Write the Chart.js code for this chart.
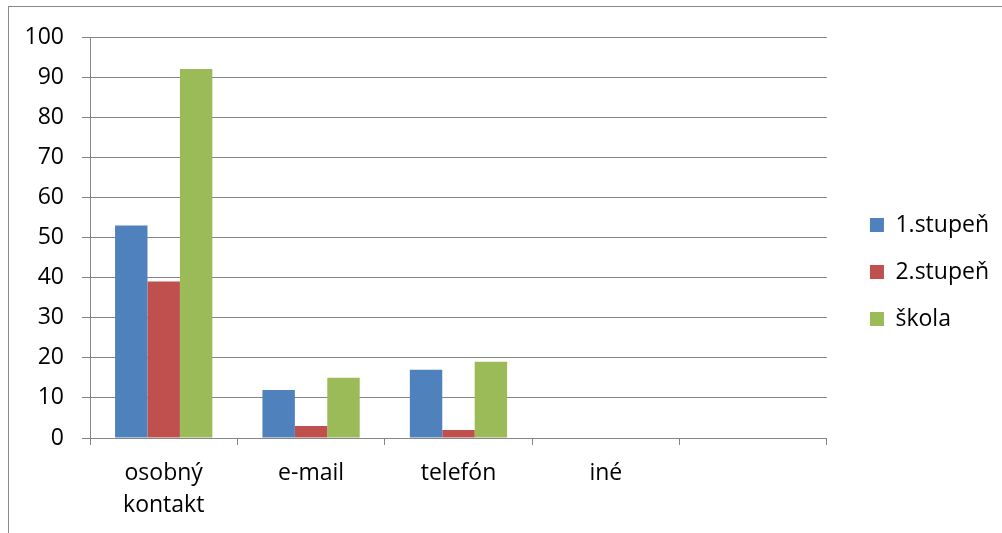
<!DOCTYPE html>
<html>
<head>
<meta charset="utf-8">
<script src="https://cdn.jsdelivr.net/npm/chart.js@4/dist/chart.umd.min.js"></script>
<style>
  html, body { margin: 0; padding: 0; background: #fff; }
  #wrap { position: relative; width: 1002px; height: 533px; overflow: hidden; }
  #frame { position: absolute; left: 8px; top: 6px; width: 1100px; height: 600px;
           border-top: 1px solid #8a8a8a; border-left: 1px solid #8a8a8a; }
  canvas { position: absolute; left: 0; top: 0; }
</style>
</head>
<body>
<div id="wrap">
  <div id="frame"></div>
  <canvas id="c" width="1002" height="533"></canvas>
</div>
<script>
const categories = [["osobný", "kontakt"], "e-mail", "telefón", "iné", ""];
const seriesNames = ["1.stupeň", "2.stupeň", "škola"];
const stupen1 = [53, 12, 17, 0, null];
const stupen2 = [39, 3, 2, 0, null];
const skola = [92, 15, 19, 0, null];
const yTicks = [0, 10, 20, 30, 40, 50, 60, 70, 80, 90, 100];
const colors = ["#4F81BD", "#C0504D", "#9BBB59"];

const FONT = "'Open Sans', 'DejaVu Sans', sans-serif";
const GRID = "#868686";

new Chart(document.getElementById("c"), {
  type: "bar",
  data: {
    labels: categories,
    datasets: [stupen1, stupen2, skola].map((d, i) => ({
      label: seriesNames[i],
      data: d,
      backgroundColor: colors[i],
      borderWidth: 0,
      categoryPercentage: 0.66,
      barPercentage: 1.0
    }))
  },
  options: {
    responsive: false,
    animation: false,
    devicePixelRatio: 1,
    layout: { padding: { left: 8, right: 3, top: 37, bottom: 0 } },
    plugins: {
      tooltip: { enabled: false },
      legend: {
        position: "right",
        align: "center",
        fullSize: false,
        title: { display: true, text: "", font: { size: 10, lineHeight: 1 }, padding: { top: 0, bottom: 59 } },
        labels: {
          boxWidth: 14,
          boxHeight: 14,
          padding: 24,
          color: "#000",
          font: { family: FONT, size: 23 }
        }
      }
    },
    scales: {
      x: {
        offset: true,
        grid: { display: true, drawOnChartArea: false, drawTicks: true, tickLength: 7, color: GRID, offset: true },
        border: { display: true, color: GRID, width: 1 },
        ticks: { color: "#000", font: { family: FONT, size: 23, lineHeight: 1.4 }, padding: 12, maxRotation: 0, autoSkip: false },
        afterFit: s => { s.height = 95; }
      },
      y: {
        min: 0,
        max: 100,
        afterBuildTicks: s => { s.ticks = yTicks.map(v => ({ value: v })); },
        grid: { color: GRID, tickLength: 8, lineWidth: 1 },
        border: { display: true, color: GRID, width: 1 },
        ticks: { color: "#000", font: { family: FONT, size: 23 }, padding: 18 },
        afterFit: s => { s.width = 82; }
      },
      yPad: {
        position: "right",
        display: true,
        grid: { display: false },
        border: { display: false },
        ticks: { display: false },
        afterFit: s => { s.width = 19; }
      }
    }
  }
});
</script>
</body>
</html>
